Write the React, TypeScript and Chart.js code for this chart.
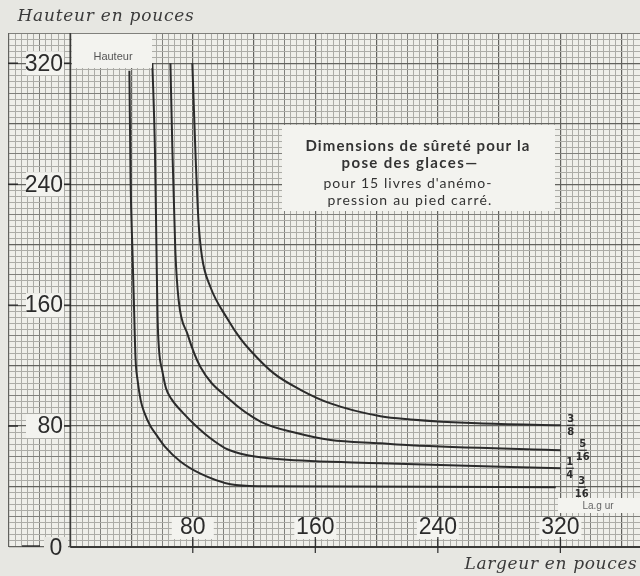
import React, { useEffect, useRef } from "react";
import { Chart, registerables } from "chart.js";

Chart.register(...registerables);

// ---- data (inches) ----
const curveLabels = ["3/8", "5/16", "1/4", "3/16"];

const curve38X = [79.7, 81.7, 83.7, 86, 91.5, 102.6, 111, 117.6, 132.7, 150.3, 169.9, 202.6, 222.2, 266, 320.3];
const curve38Y = [320, 262, 216, 192, 172, 151, 138, 130, 115, 104, 95, 86.5, 84.4, 81.8, 80.5];

const curve516X = [65.4, 66.7, 68.6, 70.8, 76.5, 85, 103.5, 124.2, 148.4, 169.9, 202.6, 222.2, 320.3];
const curve516Y = [320, 262, 196, 163, 141, 119, 98, 83, 75.2, 70.8, 68.6, 67.3, 64];

const curve14X = [53.6, 55.3, 56.3, 57.0, 58.0, 60, 62.5, 66, 73.9, 83, 91.5, 101.3, 115.7, 137.3, 202.6, 320.3];
const curve14Y = [320, 262, 196, 152, 130, 117, 105, 98, 88.4, 79.2, 71.9, 65.3, 60.7, 58, 55.4, 52.1];

const curve316X = [38.6, 39.4, 40.6, 41.6, 42.6, 44, 46, 48.5, 52.3, 56, 62.1, 71.9, 85, 104.6, 124.2, 317];
const curve316Y = [315, 242, 196, 160, 125, 110, 97, 88.5, 80, 74.5, 66, 56.5, 48.5, 41.5, 40.2, 39.6];

const yTickValues = [80, 160, 240, 320];
const xTickValues = [80, 160, 240, 320];

const yAxisTitle = "Hauteur en pouces";
const xAxisTitle = "Largeur en pouces";
const yInnerLabel = "Hauteur";
const xInnerLabel = "La.g ur";
const noteLines = [
  "Dimensions de sûreté pour la",
  "pose des glaces—",
  "pour 15 livres d'anémo-",
  "pression au pied carré.",
];

// ---- styles ----
const PAGE_BG = "#e7e7e2";
const PAPER_BG = "#efefea";
const LIGHT_BOX = "#f3f3ef";
const INK = "#2b2b2b";
const labelOffsets = [10, 22, 9, 26];

function fitText(ctx: CanvasRenderingContext2D, text: string, cx: number, cy: number, target: number, size: number, family: string, weight = "normal", style = "normal") {
  ctx.font = `${style} ${weight} ${size}px ${family}`;
  (ctx as any).letterSpacing = "0px";
  let w = ctx.measureText(text).width;
  if (w > target) {
    const s = (size * target) / w;
    ctx.font = `${style} ${weight} ${s}px ${family}`;
    w = ctx.measureText(text).width;
  } else {
    const sp = (target - w) / Math.max(1, text.length);
    (ctx as any).letterSpacing = `${sp.toFixed(2)}px`;
    w = ctx.measureText(text).width;
  }
  ctx.textAlign = "left";
  ctx.textBaseline = "middle";
  ctx.fillText(text, cx - w / 2, cy);
  (ctx as any).letterSpacing = "0px";
}

const paperPlugin = {
  id: "paper",
  beforeDraw(chart: any) {
    const { ctx, chartArea: a } = chart;
    ctx.save();
    ctx.fillStyle = PAGE_BG;
    ctx.fillRect(0, 0, chart.width, chart.height);
    ctx.fillStyle = PAPER_BG;
    ctx.fillRect(a.left, a.top, a.right - a.left, a.bottom - a.top);
    ctx.restore();
  },
  afterDraw(chart: any) {
    const { ctx, chartArea: a } = chart;
    const xs = chart.scales.x;
    const ys = chart.scales.y;
    ctx.save();

    // axes
    const x0 = xs.getPixelForValue(0);
    ctx.strokeStyle = "#3a3a38";
    ctx.lineWidth = 2;
    ctx.beginPath();
    ctx.moveTo(x0, a.bottom);
    ctx.lineTo(a.right, a.bottom);
    ctx.stroke();
    ctx.lineWidth = 1.6;
    ctx.beginPath();
    ctx.moveTo(x0, a.top);
    ctx.lineTo(x0, a.bottom);
    ctx.stroke();

    const digitFont = "23px 'Liberation Sans Narrow', 'Liberation Sans'";

    // y labels
    for (const v of yTickValues) {
      const py = ys.getPixelForValue(v);
      ctx.fillStyle = LIGHT_BOX;
      ctx.fillRect(26, py - 12, 38, 24);
      ctx.strokeStyle = INK;
      ctx.lineWidth = 1.4;
      ctx.beginPath();
      ctx.moveTo(8, py);
      ctx.lineTo(18, py);
      ctx.moveTo(64, py);
      ctx.lineTo(71, py);
      ctx.stroke();
      ctx.fillStyle = INK;
      ctx.font = digitFont;
      ctx.textAlign = "right";
      ctx.textBaseline = "middle";
      ctx.fillText(String(v), 63, py + 1);
    }
    // zero
    ctx.fillStyle = PAGE_BG;
    ctx.fillRect(44, 537, 24, 21);
    ctx.strokeStyle = INK;
    ctx.lineWidth = 1.4;
    ctx.beginPath();
    ctx.moveTo(22, 546);
    ctx.lineTo(40, 546);
    ctx.stroke();
    ctx.fillStyle = INK;
    ctx.font = digitFont;
    ctx.textAlign = "center";
    ctx.textBaseline = "middle";
    ctx.fillText("0", 56, 549);

    // x labels
    for (const v of xTickValues) {
      const px = xs.getPixelForValue(v);
      ctx.fillStyle = LIGHT_BOX;
      ctx.fillRect(px - 21, 517, 42, 22);
      ctx.strokeStyle = INK;
      ctx.lineWidth = 1.2;
      ctx.beginPath();
      ctx.moveTo(px, 537);
      ctx.lineTo(px, 553);
      ctx.stroke();
      ctx.fillStyle = INK;
      ctx.font = digitFont;
      ctx.textAlign = "center";
      ctx.textBaseline = "middle";
      ctx.fillText(String(v), px, 528);
    }

    // inner labels
    ctx.fillStyle = LIGHT_BOX;
    ctx.fillRect(72, 34, 80, 34);
    ctx.fillStyle = "#555";
    ctx.font = "11px 'Liberation Sans Narrow', 'Liberation Sans'";
    ctx.textAlign = "center";
    ctx.textBaseline = "middle";
    ctx.fillText(yInnerLabel, 113, 57);

    ctx.fillStyle = LIGHT_BOX;
    ctx.fillRect(558, 498, 82, 15);
    ctx.fillStyle = "#666";
    ctx.font = "10px 'Liberation Sans Narrow', 'Liberation Sans'";
    ctx.fillText(xInnerLabel, 598, 506);

    // note box
    ctx.fillStyle = LIGHT_BOX;
    ctx.fillRect(282, 125, 273, 86);
    ctx.fillStyle = "#333";
    fitText(ctx, noteLines[0], 418, 146, 225, 15, "Lato, 'Noto Sans'", "bold");
    fitText(ctx, noteLines[1], 410, 163, 137, 15, "Lato, 'Noto Sans'", "bold");
    fitText(ctx, noteLines[2], 408, 183, 169, 14, "Lato, 'Noto Sans'");
    fitText(ctx, noteLines[3], 410, 200, 165, 14, "Lato, 'Noto Sans'");

    // titles
    ctx.fillStyle = "#3a3a3a";
    fitText(ctx, yAxisTitle, 106, 17, 177, 17, "'DejaVu Serif'", "normal", "italic");
    fitText(ctx, xAxisTitle, 551, 565, 173, 17, "'DejaVu Serif'", "normal", "italic");

    // fraction labels at curve ends
    chart.data.datasets.forEach((ds: any, i: number) => {
      const last = ds.data[ds.data.length - 1];
      const px = xs.getPixelForValue(last.x) + labelOffsets[i];
      const py = ys.getPixelForValue(last.y);
      const [num, den] = curveLabels[i].split("/");
      ctx.fillStyle = INK;
      ctx.strokeStyle = INK;
      ctx.font = "bold 10px 'DejaVu Sans'";
      ctx.textAlign = "center";
      ctx.textBaseline = "middle";
      ctx.fillText(num, px, py - 6);
      ctx.lineWidth = 1.2;
      ctx.beginPath();
      ctx.moveTo(px - 4, py);
      ctx.lineTo(px + 4, py);
      ctx.stroke();
      ctx.fillText(den, px, py + 7);
    });

    ctx.restore();
  },
};

function toPoints(xs: number[], ys: number[]) {
  return xs.map((x, i) => ({ x, y: ys[i] }));
}

function gridColor(v: number) {
  if (v % 40 === 0) return "#62625e";
  if (v % 20 === 0) return "#80807c";
  return "#acaca7";
}

export default function App() {
  const ref = useRef<HTMLCanvasElement | null>(null);

  useEffect(() => {
    if (!ref.current) return;
    const mk = (data: any) => ({
      data,
      borderColor: INK,
      borderWidth: 2,
      pointRadius: 0,
      cubicInterpolationMode: "monotone",
      fill: false,
    });
    const chart = new Chart(ref.current, {
      type: "line",
      data: {
        datasets: [
          { label: curveLabels[0], ...mk(toPoints(curve38X, curve38Y)) },
          { label: curveLabels[1], ...mk(toPoints(curve516X, curve516Y)) },
          { label: curveLabels[2], ...mk(toPoints(curve14X, curve14Y)) },
          { label: curveLabels[3], ...mk(toPoints(curve316X, curve316Y)) },
        ],
      },
      options: {
        animation: false,
        responsive: false,
        layout: { padding: { left: 9, right: 0, top: 33, bottom: 29 } },
        plugins: { legend: { display: false }, tooltip: { enabled: false } },
        scales: {
          x: {
            type: "linear",
            min: -40,
            max: 372,
            afterFit: (s: any) => {
              s.height = 0;
            },
            border: { display: false },
            ticks: { display: false, stepSize: 4 },
            grid: {
              drawTicks: false,
              color: (c: any) => gridColor(c.tick.value),
              lineWidth: (c: any) => (c.tick.value % 40 === 0 ? 1.2 : 1),
            },
          },
          y: {
            type: "linear",
            min: 0,
            max: 340,
            afterFit: (s: any) => {
              s.width = 0;
            },
            border: { display: false },
            ticks: { display: false, stepSize: 4 },
            grid: {
              drawTicks: false,
              color: (c: any) => gridColor(c.tick.value),
              lineWidth: (c: any) => (c.tick.value % 40 === 0 ? 1.2 : 1),
            },
          },
        },
      },
      plugins: [paperPlugin],
    });
    return () => chart.destroy();
  }, []);

  return (
    <div style={{ position: "fixed", left: 0, top: 0, width: 640, height: 576 }}>
      <canvas ref={ref} width={640} height={576} style={{ display: "block" }} />
    </div>
  );
}
